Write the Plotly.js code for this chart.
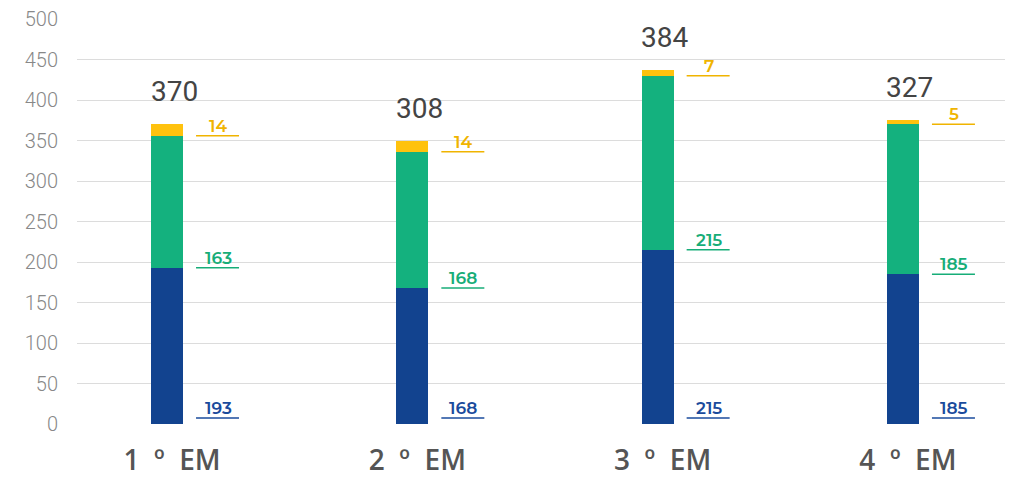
<!DOCTYPE html>
<html>
<head>
<meta charset="utf-8">
<script src="https://cdn.plot.ly/plotly-3.0.1.min.js"></script>
<style>html,body{margin:0;padding:0;background:#fff;}#chart{width:1016px;height:481px;}</style>
</head>
<body>
<div id="chart"></div>
<script>
const categories = ['1 º EM', '2 º EM', '3 º EM', '4 º EM'];
const blueValues = [193, 168, 215, 185];
const greenValues = [163, 168, 215, 185];
const yellowValues = [14, 14, 7, 5];
const totalLabels = [370, 308, 384, 327];
const yTicks = [0, 50, 100, 150, 200, 250, 300, 350, 400, 450, 500];

const cBlue = '#12438f', cGreen = '#14b17e', cYellow = '#ffc20e';
const tBlue = '#1a4b9c', tGreen = '#17ad78', tYellow = '#f0b400';
const idx = categories.map((c, i) => i);
const barW = 0.13;

const traces = [
  {type: 'bar', x: idx, y: blueValues, marker: {color: cBlue}, width: barW, hoverinfo: 'skip'},
  {type: 'bar', x: idx, y: greenValues, marker: {color: cGreen}, width: barW, hoverinfo: 'skip'},
  {type: 'bar', x: idx, y: yellowValues, marker: {color: cYellow}, width: barW, hoverinfo: 'skip'}
];

const shapes = [];
const annotations = [];
const labelFont = (col) => ({family: 'Montserrat, "Open Sans", sans-serif', size: 17, color: col, weight: 600});
idx.forEach(i => {
  const segs = [
    {base: 0, val: blueValues[i], col: tBlue, off: 6},
    {base: blueValues[i], val: greenValues[i], col: tGreen, off: 0},
    {base: blueValues[i] + greenValues[i], val: yellowValues[i], col: tYellow, off: 0}
  ];
  segs.forEach(s => {
    shapes.push({type: 'line', xref: 'x', yref: 'y', xsizemode: 'pixel', ysizemode: 'pixel',
      xanchor: i, yanchor: s.base, x0: 29, x1: 72, y0: s.off, y1: s.off,
      line: {color: s.col, width: 1.5}});
    annotations.push({x: i, y: s.base, xref: 'x', yref: 'y', text: String(s.val), showarrow: false,
      xanchor: 'center', yanchor: 'bottom', xshift: 51, yshift: s.off - 2, font: labelFont(s.col)});
  });
  const top = blueValues[i] + greenValues[i] + yellowValues[i];
  annotations.push({x: i, y: top, xref: 'x', yref: 'y', text: String(totalLabels[i]), showarrow: false,
    xanchor: 'center', yanchor: 'bottom', xshift: 7, yshift: 14,
    font: {family: 'Roboto, sans-serif', size: 28, color: '#444'}});
});

const layout = {
  width: 1016, height: 481,
  margin: {l: 77, r: 11, t: 19, b: 57},
  paper_bgcolor: '#fff', plot_bgcolor: '#fff',
  barmode: 'stack',
  showlegend: false,
  xaxis: {range: [-0.367, 3.416], tickvals: idx, ticktext: categories.map(c => c.replace(/ /g, '\u00a0\u00a0')),
    showgrid: false, zeroline: false, showline: false, ticks: '', ticklabelstandoff: 17, ticklabelshift: 5,
    tickfont: {family: '"Open Sans", sans-serif', size: 28, color: '#555', weight: 600}},
  yaxis: {range: [0, 500], tickvals: yTicks, showgrid: true, gridcolor: '#dcdcdc', gridwidth: 1,
    zeroline: false, showline: false, ticks: '', ticklabelstandoff: 18,
    tickfont: {family: 'Roboto, sans-serif', size: 20, color: '#888', weight: 300}},
  shapes: shapes,
  annotations: annotations
};

Plotly.newPlot('chart', traces, layout, {displayModeBar: false, staticPlot: true});
</script>
</body>
</html>
